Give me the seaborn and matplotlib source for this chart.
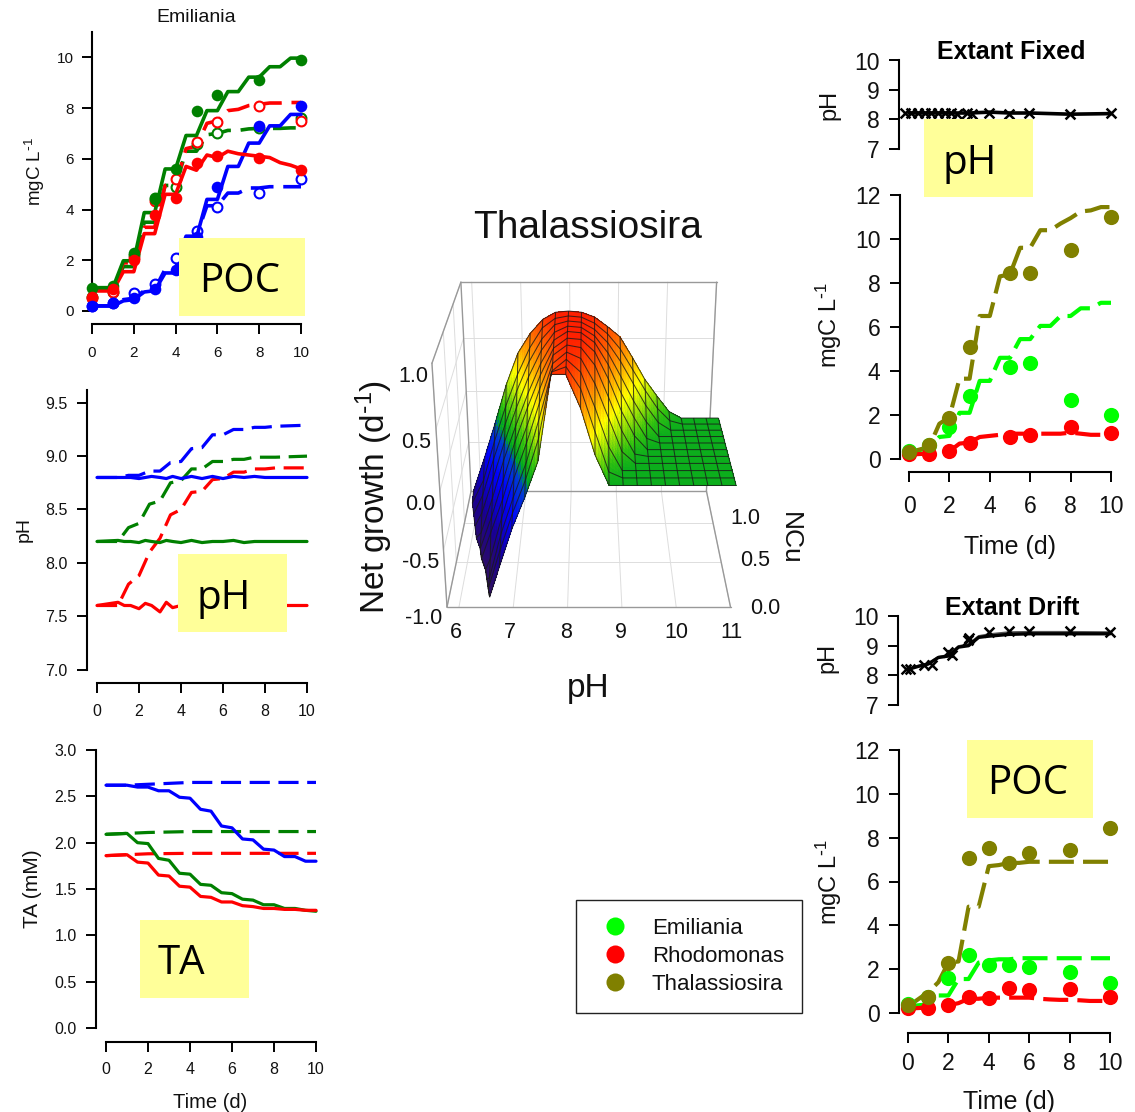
import numpy as np
import matplotlib
matplotlib.use("Agg")
import matplotlib.pyplot as plt
import seaborn as sns
from matplotlib.colors import LinearSegmentedColormap, Normalize
from matplotlib.lines import Line2D
from matplotlib.patches import Rectangle

sns.set_theme(style="ticks")
plt.rcParams["font.family"] = ["Liberation Sans", "DejaVu Sans"]
plt.rcParams["mathtext.default"] = "regular"
plt.rcParams["axes.unicode_minus"] = False

W, H = 1135, 1112

BLUE = "#0000FF"
GREEN = "#008000"
RED = "#FF0000"
LIME = "#00FF00"
OLIVE = "#808000"
BOX_YELLOW = "#FFFF99"

# ---- time bases ----
T_MODEL = [0, 1, 1.5, 2, 2.5, 3, 3.5, 4, 4.5, 5, 5.5, 6, 6.5, 7, 7.5, 8, 8.5, 9, 9.5, 10]
T_OBS = [0, 1, 2, 3, 4, 5, 6, 8, 10]
T_OBS_FIXED = [0, 1, 2, 3, 5, 6, 8, 10]

# ---- Emiliania POC ----
POC_GREEN_SOLID = [.92, .92, 1.98, 1.98, 3.88, 3.88, 5.6, 5.6, 6.92, 6.92, 7.9, 7.9, 8.65, 8.65, 9.22, 9.22, 9.63, 9.63, 9.97, 9.97]
POC_GREEN_DASH = [.9, .9, 1.75, 1.75, 3.5, 3.5, 4.95, 4.95, 6.3, 6.3, 6.95, 7.0, 7.12, 7.12, 7.18, 7.2, 7.2, 7.2, 7.22, 7.22]
POC_RED_SOLID = [.8, .8, 1.55, 1.55, 3.05, 3.05, 4.6, 4.6, 5.7, 5.55, 6.15, 6.05, 6.3, 6.2, 6.15, 6.1, 6.05, 5.85, 5.75, 5.6]
POC_RED_DASH = [.8, .8, 1.9, 1.9, 3.3, 3.3, 4.95, 5.0, 6.4, 6.5, 7.4, 7.5, 7.9, 7.95, 8.1, 8.15, 8.2, 8.2, 8.22, 8.22]
POC_BLUE_SOLID = [.2, .2, .4, .45, .75, .8, 1.5, 1.5, 2.4, 2.9, 4.4, 4.4, 5.7, 5.7, 6.62, 6.62, 7.3, 7.3, 7.75, 7.75]
POC_BLUE_DASH = [.2, .2, .45, .5, .8, .85, 1.65, 1.7, 2.95, 2.95, 4.15, 4.15, 4.65, 4.65, 4.85, 4.85, 4.9, 4.9, 4.9, 4.9]
OBS_GREEN_FILL = [.9, 1.0, 2.3, 4.4, 5.6, 7.9, 8.5, 9.1, 9.9]
OBS_RED_FILL = [.55, .85, 2.0, 3.8, 4.45, 5.85, 6.1, 6.05, 5.55]
OBS_BLUE_FILL = [.2, .3, .5, .85, 1.6, 2.9, 4.9, 7.3, 8.1]
OBS_GREEN_OPEN = [.55, .75, 2.2, 4.45, 4.9, 6.6, 7.0, 7.2, 7.6]
OBS_RED_OPEN = [.5, .75, 2.1, 4.35, 5.2, 6.65, 7.45, 8.1, 7.5]
OBS_BLUE_OPEN = [.2, .3, .7, 1.05, 2.1, 3.15, 4.1, 4.65, 5.2]

# ---- Emiliania pH ----
T_PH = [0, 1, 1.3, 1.6, 2, 2.3, 2.6, 3, 3.3, 3.6, 4, 4.5, 5, 5.5, 6, 6.5, 7, 7.5, 8, 8.5, 9, 9.5, 10]
PH_BLUE_SOLID = [8.8, 8.8, 8.8, 8.8, 8.79, 8.8, 8.81, 8.8, 8.79, 8.81, 8.79, 8.81, 8.79, 8.81, 8.79, 8.81, 8.8, 8.81, 8.8, 8.8, 8.8, 8.8, 8.8]
PH_GREEN_SOLID = [8.2, 8.21, 8.2, 8.2, 8.19, 8.21, 8.2, 8.19, 8.21, 8.2, 8.19, 8.21, 8.19, 8.2, 8.2, 8.21, 8.19, 8.2, 8.2, 8.2, 8.2, 8.2, 8.2]
PH_RED_SOLID = [7.6, 7.63, 7.6, 7.6, 7.57, 7.62, 7.6, 7.54, 7.63, 7.58, 7.6, 7.6, 7.6, 7.6, 7.6, 7.6, 7.6, 7.6, 7.6, 7.6, 7.6, 7.6, 7.6]
T_PH_DASH = [0, 1, 1.5, 2, 2.5, 3, 3.5, 4, 4.5, 5, 5.5, 6, 6.5, 7, 7.5, 8, 8.5, 10]
PH_BLUE_DASH = [8.8, 8.8, 8.82, 8.82, 8.86, 8.86, 8.94, 8.95, 9.07, 9.08, 9.2, 9.2, 9.25, 9.25, 9.27, 9.27, 9.28, 9.29]
PH_GREEN_DASH = [8.2, 8.2, 8.33, 8.37, 8.55, 8.58, 8.75, 8.77, 8.88, 8.88, 8.95, 8.95, 8.97, 8.97, 8.99, 8.99, 8.99, 9.0]
PH_RED_DASH = [7.6, 7.6, 7.8, 7.88, 8.1, 8.23, 8.45, 8.5, 8.66, 8.67, 8.78, 8.79, 8.85, 8.85, 8.88, 8.88, 8.89, 8.89]

# ---- Emiliania TA ----
TA_BLUE_SOLID = [2.62, 2.62, 2.6, 2.6, 2.56, 2.56, 2.49, 2.48, 2.36, 2.34, 2.18, 2.16, 2.04, 2.03, 1.93, 1.92, 1.85, 1.85, 1.8, 1.8]
TA_GREEN_SOLID = [2.09, 2.1, 2.0, 1.99, 1.83, 1.81, 1.67, 1.66, 1.55, 1.54, 1.46, 1.45, 1.39, 1.38, 1.33, 1.33, 1.29, 1.29, 1.27, 1.26]
TA_RED_SOLID = [1.86, 1.87, 1.79, 1.78, 1.65, 1.64, 1.53, 1.52, 1.42, 1.41, 1.36, 1.36, 1.32, 1.31, 1.29, 1.29, 1.28, 1.28, 1.27, 1.27]
T_TA_DASH = [0, 1, 2, 4, 10]
TA_BLUE_DASH = [2.62, 2.62, 2.63, 2.65, 2.65]
TA_GREEN_DASH = [2.09, 2.1, 2.11, 2.12, 2.12]
TA_RED_DASH = [1.86, 1.87, 1.88, 1.885, 1.885]

# ---- Extant Fixed ----
T_FIXED_LINE = [0, 1, 2, 3, 4, 5, 6, 8, 10]
FIXED_PH_LINE = [8.22, 8.22, 8.22, 8.22, 8.25, 8.22, 8.22, 8.18, 8.2]
T_FIXED_X = [-.2, .1, .45, .8, 1.1, 1.45, 1.8, 2.1, 2.4, 2.85, 3.1, 3.95, 4.95, 5.95, 7.95, 10]
FIXED_PH_X = [8.23, 8.22, 8.22, 8.22, 8.23, 8.22, 8.22, 8.22, 8.2, 8.22, 8.2, 8.23, 8.2, 8.23, 8.2, 8.22]
FIXED_OLIVE_DASH = [.3, .55, 1.6, 1.9, 3.65, 3.65, 6.5, 6.5, 8.3, 8.4, 9.6, 9.6, 10.4, 10.4, 10.7, 10.95, 11.25, 11.3, 11.45, 11.45]
FIXED_LIME_DASH = [.3, .5, 1.0, 1.05, 2.1, 2.1, 3.55, 3.55, 4.6, 4.6, 5.45, 5.45, 6.05, 6.05, 6.5, 6.5, 6.85, 6.85, 7.1, 7.1]
FIXED_RED_DASH = [.2, .25, .3, .35, .7, .75, 1.0, 1.05, 1.1, 1.15, 1.15, 1.15, 1.15, 1.15, 1.15, 1.2, 1.15, 1.1, 1.1, 1.1]
FIXED_LIME_OBS = [.35, .65, 1.45, 2.85, 4.2, 4.35, 2.7, 2.0]
FIXED_RED_OBS = [.25, .25, .35, .75, 1.0, 1.1, 1.45, 1.2]
FIXED_OLIVE_OBS = [.3, .65, 1.85, 5.1, 8.45, 8.45, 9.5, 11.0]

# ---- Extant Drift ----
T_DRIFT_LINE = [0, .5, 1, 1.5, 2, 2.5, 3, 3.5, 4, 5, 6, 8, 10]
DRIFT_PH_LINE = [8.2, 8.3, 8.38, 8.6, 8.65, 8.95, 9.0, 9.28, 9.32, 9.38, 9.4, 9.4, 9.4]
DRIFT_PH_LINE2 = [8.2, 8.32, 8.4, 8.62, 8.68, 8.98, 9.05, 9.32, 9.38, 9.45, 9.46, 9.46, 9.45]
T_DRIFT_X = [-.1, .1, .8, 1.2, 2.0, 2.2, 2.95, 3.0, 4, 5, 6, 8, 10]
DRIFT_PH_X = [8.2, 8.2, 8.35, 8.35, 8.8, 8.7, 9.2, 9.25, 9.45, 9.5, 9.5, 9.5, 9.45]
DRIFT_OLIVE_DASH = [.3, .95, 1.4, 2.3, 2.35, 4.85, 4.85, 6.7, 6.75, 6.85, 6.85, 6.9, 6.9, 6.9, 6.9, 6.9, 6.9, 6.9, 6.9, 6.9]
DRIFT_LIME_DASH = [.3, .4, .8, .8, 1.55, 1.55, 2.3, 2.4, 2.45, 2.45, 2.5, 2.5, 2.5, 2.5, 2.5, 2.5, 2.5, 2.5, 2.5, 2.5]
DRIFT_RED_DASH = [.2, .25, .3, .35, .45, .65, .65, .7, .7, .7, .7, .7, .65, .62, .6, .6, .58, .55, .55, .55]
DRIFT_LIME_OBS = [.4, .75, 1.6, 2.65, 2.2, 2.2, 2.1, 1.85, 1.35]
DRIFT_RED_OBS = [.25, .25, .35, .75, .7, 1.15, 1.05, 1.1, .75]
DRIFT_OLIVE_OBS = [.35, .75, 2.3, 7.05, 7.55, 6.85, 7.3, 7.45, 8.45]

# ---- Thalassiosira growth surface ----
SURF_PH = [6, 6.25, 6.5, 6.75, 7, 7.25, 7.5, 7.75, 8, 8.25, 8.5, 8.75, 9, 9.25, 9.5, 9.75, 10, 10.25, 10.5, 10.75, 11]
SURF_NCU = [.07, .163, .256, .349, .442, .535, .628, .721, .814, .907, 1]
SURF_LEFT_EDGE = [6.55, 6.5, 6.45, 6.4, 6.3, 6.25, 6.15, 6.1, 6.05, 6.0, 6.0]
SURF_GROWTH = [
    [-.97, -.97, -.97, -.7, -.37, -.1, .2, .88, .88, .62, .25, 0, 0, 0, 0, 0, 0, 0, 0, 0, 0],
    [-.97, -.97, -.97, -.62, -.3, -.02, .32, .85, .89, .72, .38, .05, 0, 0, 0, 0, 0, 0, 0, 0, 0],
    [-.96, -.96, -.95, -.55, -.23, .06, .42, .81, .9, .8, .52, .2, 0, 0, 0, 0, 0, 0, 0, 0, 0],
    [-.95, -.95, -.85, -.47, -.13, .17, .5, .82, .91, .86, .66, .38, .1, 0, 0, 0, 0, 0, 0, 0, 0],
    [-.92, -.92, -.68, -.38, -.03, .26, .57, .84, .92, .9, .76, .5, .22, .02, 0, 0, 0, 0, 0, 0, 0],
    [-.9, -.9, -.6, -.27, .07, .36, .63, .85, .93, .92, .82, .6, .33, .12, 0, 0, 0, 0, 0, 0, 0],
    [-.87, -.82, -.5, -.15, .15, .43, .68, .87, .94, .93, .85, .67, .43, .22, .04, 0, 0, 0, 0, 0, 0],
    [-.83, -.7, -.38, -.05, .25, .52, .74, .89, .94, .93, .86, .72, .52, .31, .13, 0, 0, 0, 0, 0, 0],
    [-.78, -.6, -.26, .05, .35, .6, .79, .91, .94, .93, .87, .76, .6, .41, .22, .07, 0, 0, 0, 0, 0],
    [-.74, -.52, -.16, .16, .44, .67, .84, .92, .94, .93, .88, .79, .66, .48, .3, .14, .03, 0, 0, 0, 0],
    [-.69, -.38, -.05, .3, .58, .75, .87, .93, .94, .93, .89, .81, .72, .54, .35, .2, .06, 0, 0, 0, 0],
]
PH_TICKS = [6, 7, 8, 9, 10, 11]
NCU_TICKS = [0, .5, 1]
Z_TICKS = [-1, -.5, 0, .5, 1]

RAINBOW = LinearSegmentedColormap.from_list("growth", [
    (0.00, "#30105F"), (0.15, "#1A0090"), (0.33, "#0000FF"), (0.46, "#0040D0"),
    (0.50, "#00A820"), (0.57, "#30C010"), (0.72, "#FFFF00"), (0.86, "#FF8800"), (1.00, "#FF2000"),
])


def add_panel(fig, x0, x10, y_low, y_high, ylim, yticks, ylabels, left_off, bottom_off, tick_size, xpad=9, ypad=6):
    # x0, x10: pixel of t=0, t=10; y_low, y_high: pixel of ylim ends
    ax = fig.add_axes([x0 / W, 1 - y_low / H, (x10 - x0) / W, (y_low - y_high) / H])
    ax.set_xlim(0, 10)
    ax.set_ylim(*ylim)
    ax.patch.set_alpha(0)
    sns.despine(ax=ax, offset={"left": left_off * .72, "bottom": (bottom_off or 0) * .72})
    ax.set_yticks(yticks, ylabels)
    ax.spines["left"].set_linewidth(1.5)
    ax.spines["left"].set_color("black")
    ax.tick_params(axis="y", length=7, width=1.4, labelsize=tick_size, pad=ypad, color="black", labelcolor="#111111")
    if bottom_off is None:
        ax.xaxis.set_visible(False)
        ax.spines["bottom"].set_visible(False)
    else:
        ax.set_xticks([0, 2, 4, 6, 8, 10])
        ax.spines["bottom"].set_linewidth(1.5)
        ax.spines["bottom"].set_color("black")
        ax.spines["bottom"].set_bounds(0, 10)
        ax.tick_params(axis="x", length=7, width=1.4, labelsize=tick_size, pad=xpad, color="black", labelcolor="#111111")
    ax.set_xlabel("")
    ax.set_ylabel("")
    return ax


def draw_line(ax, x, y, color, dashed=False, lw=2.6, z=2, dash=(6.3, 2.7)):
    ls = (0, dash) if dashed else "-"
    sns.lineplot(x=x, y=y, ax=ax, color=color, linewidth=lw, linestyle=ls, estimator=None, sort=False,
                 errorbar=None, clip_on=False, zorder=z, solid_joinstyle="round", dash_capstyle="butt")


def draw_dots(ax, x, y, color, size, is_open=False, z=3):
    if is_open:
        sns.scatterplot(x=x, y=y, ax=ax, color="white", edgecolor=color, linewidth=1.5, s=size,
                        clip_on=False, zorder=z, legend=False)
    else:
        sns.scatterplot(x=x, y=y, ax=ax, color=color, edgecolor=color, linewidth=0, s=size,
                        clip_on=False, zorder=z, legend=False)


def draw_surface(fig):
    ax = fig.add_axes([332 / W, 1 - 693 / H, 500 / W, 500 / H], projection="3d", computed_zorder=False)
    ax.patch.set_alpha(0)
    ax.set_proj_type("persp", focal_length=0.416)
    ax.view_init(elev=24.5, azim=-90)
    ax.set_box_aspect((1.0, .892, .918), zoom=.848)
    ax.set_xlim(5.78, 11)
    ax.set_ylim(0, 1.45)
    ax.set_zlim(-1, 1)
    ax.set_axis_off()

    xb0, xb1, yb0, yb1, zb0, zb1 = 5.78, 11, 0, 1.45, -1, 1
    # light grid on the walls and floor
    for p in PH_TICKS:
        ax.plot([p, p], [yb1, yb1], [zb0, zb1], color="#DDDDDD", lw=.7, zorder=1)
        ax.plot([p, p], [yb0, yb1], [zb0, zb0], color="#DDDDDD", lw=.7, zorder=1)
    for n in NCU_TICKS:
        ax.plot([xb0, xb1], [n, n], [zb0, zb0], color="#DDDDDD", lw=.7, zorder=1)
        ax.plot([xb0, xb0], [n, n], [zb0, zb1], color="#DDDDDD", lw=.7, zorder=1)
    for v in Z_TICKS:
        ax.plot([xb0, xb1], [yb1, yb1], [v, v], color="#DDDDDD", lw=.7, zorder=1)
        ax.plot([xb0, xb0], [yb0, yb1], [v, v], color="#DDDDDD", lw=.7, zorder=1)
    # frame
    frame = [
        ([xb0, xb1], [yb0, yb0], [zb0, zb0]), ([xb0, xb1], [yb1, yb1], [zb0, zb0]),
        ([xb0, xb1], [yb1, yb1], [zb1, zb1]), ([xb0, xb0], [yb0, yb1], [zb1, zb1]),
        ([xb0, xb0], [yb0, yb0], [zb0, zb1]), ([xb0, xb0], [yb1, yb1], [zb0, zb1]),
        ([xb1, xb1], [yb1, yb1], [zb0, zb1]), ([xb0, xb0], [yb0, yb1], [zb0, zb0]),
        ([xb1, xb1], [yb0, yb1], [zb0, zb0]),
    ]
    for fx, fy, fz in frame:
        ax.plot(fx, fy, fz, color="#999999", lw=1.0, zorder=1)

    ph_grid, ncu_grid = np.meshgrid(SURF_PH, SURF_NCU)
    ph_grid = np.maximum(ph_grid, np.array(SURF_LEFT_EDGE)[:, None])
    growth = np.array(SURF_GROWTH)

    # finer shading cells so the colour runs smoothly inside each mesh cell
    k = 5
    ri = np.linspace(0, growth.shape[0] - 1, (growth.shape[0] - 1) * k + 1)
    ci = np.linspace(0, growth.shape[1] - 1, (growth.shape[1] - 1) * k + 1)

    def upsample(a):
        rows = np.array([np.interp(ci, np.arange(a.shape[1]), row) for row in a])
        return np.array([np.interp(ri, np.arange(a.shape[0]), col) for col in rows.T]).T

    fine_x, fine_y, fine_z = upsample(ph_grid), upsample(ncu_grid), upsample(growth)
    norm = Normalize(-1, .93)
    ax.plot_surface(fine_x, fine_y, fine_z, rstride=1, cstride=1, facecolors=RAINBOW(norm(fine_z)),
                    shade=False, linewidth=0, antialiased=False, zorder=2)
    ax.plot_wireframe(ph_grid, ncu_grid, growth, rstride=1, cstride=1, color="#1A1A1A", linewidth=.75, alpha=.8, zorder=3)


fig = plt.figure(figsize=(W / 100, H / 100), dpi=100, facecolor="white")

# ---- left column ----
ax = add_panel(fig, 92, 301, 311, 32, (0, 11), [0, 2, 4, 6, 8, 10], ["0", "2", "4", "6", "8", "10"], 0, 13, 11)
for yy, c in [(POC_GREEN_DASH, GREEN), (POC_RED_DASH, RED), (POC_BLUE_DASH, BLUE)]:
    draw_line(ax, T_MODEL, yy, c, dashed=True)
for yy, c in [(OBS_GREEN_OPEN, GREEN), (OBS_RED_OPEN, RED), (OBS_BLUE_OPEN, BLUE)]:
    draw_dots(ax, T_OBS, yy, c, 50, is_open=True)
for yy, c in [(POC_BLUE_SOLID, BLUE), (POC_RED_SOLID, RED), (POC_GREEN_SOLID, GREEN)]:
    draw_line(ax, T_MODEL, yy, c, z=4)
for yy, c in [(OBS_GREEN_FILL, GREEN), (OBS_RED_FILL, RED), (OBS_BLUE_FILL, BLUE)]:
    draw_dots(ax, T_OBS, yy, c, 70, z=5)

ax = add_panel(fig, 97, 307, 669.5, 390, (7, 9.62), [7, 7.5, 8, 8.5, 9, 9.5], ["7.0", "7.5", "8.0", "8.5", "9.0", "9.5"], 10, 13.5, 11.5, xpad=8, ypad=7)
for yy, c in [(PH_BLUE_DASH, BLUE), (PH_GREEN_DASH, GREEN), (PH_RED_DASH, RED)]:
    draw_line(ax, T_PH_DASH, yy, c, dashed=True, lw=2.3)
for yy, c in [(PH_BLUE_SOLID, BLUE), (PH_GREEN_SOLID, GREEN), (PH_RED_SOLID, RED)]:
    draw_line(ax, T_PH, yy, c, lw=2.3)

ax = add_panel(fig, 106, 316, 1028, 750, (0, 3), [0, .5, 1, 1.5, 2, 2.5, 3], ["0.0", "0.5", "1.0", "1.5", "2.0", "2.5", "3.0"], 10, 13.5, 11.5, xpad=8, ypad=7)
for yy, c in [(TA_BLUE_DASH, BLUE), (TA_GREEN_DASH, GREEN), (TA_RED_DASH, RED)]:
    draw_line(ax, T_TA_DASH, yy, c, dashed=True, lw=2.3)
for yy, c in [(TA_BLUE_SOLID, BLUE), (TA_GREEN_SOLID, GREEN), (TA_RED_SOLID, RED)]:
    draw_line(ax, T_MODEL, yy, c, lw=2.3)

# ---- right column ----
ax = add_panel(fig, 909, 1111, 149, 60.5, (7, 10), [7, 8, 9, 10], ["7", "8", "9", "10"], 10, None, 16.5, ypad=7)
draw_line(ax, T_FIXED_LINE, FIXED_PH_LINE, "black", lw=2.6)
sns.scatterplot(x=T_FIXED_X, y=FIXED_PH_X, ax=ax, marker="x", color="black", s=50, linewidth=1.8, clip_on=False, zorder=3, legend=False)

ax = add_panel(fig, 909, 1111, 459, 195, (0, 12), [0, 2, 4, 6, 8, 10, 12], ["0", "2", "4", "6", "8", "10", "12"], 9, 13, 16.5, xpad=9.5, ypad=7)
for yy, c in [(FIXED_LIME_DASH, LIME), (FIXED_RED_DASH, RED), (FIXED_OLIVE_DASH, OLIVE)]:
    draw_line(ax, T_MODEL, yy, c, dashed=True, lw=3, dash=(6, 2.2))
for yy, c in [(FIXED_LIME_OBS, LIME), (FIXED_RED_OBS, RED), (FIXED_OLIVE_OBS, OLIVE)]:
    draw_dots(ax, T_OBS_FIXED, yy, c, 120)

ax = add_panel(fig, 908, 1110, 705, 616, (7, 10), [7, 8, 9, 10], ["7", "8", "9", "10"], 10, None, 16.5, ypad=7)
draw_line(ax, T_DRIFT_LINE, DRIFT_PH_LINE2, "#555555", lw=1.6)
draw_line(ax, T_DRIFT_LINE, DRIFT_PH_LINE, "black", lw=2.4)
sns.scatterplot(x=T_DRIFT_X, y=DRIFT_PH_X, ax=ax, marker="x", color="black", s=50, linewidth=1.8, clip_on=False, zorder=3, legend=False)

ax = add_panel(fig, 908, 1110, 1013, 750, (0, 12), [0, 2, 4, 6, 8, 10, 12], ["0", "2", "4", "6", "8", "10", "12"], 9, 20, 16.5, xpad=7, ypad=7)
for yy, c in [(DRIFT_LIME_DASH, LIME), (DRIFT_RED_DASH, RED), (DRIFT_OLIVE_DASH, OLIVE)]:
    draw_line(ax, T_MODEL, yy, c, dashed=True, lw=3, dash=(6, 2.2))
for yy, c in [(DRIFT_LIME_OBS, LIME), (DRIFT_RED_OBS, RED), (DRIFT_OLIVE_OBS, OLIVE)]:
    draw_dots(ax, T_OBS, yy, c, 120)

draw_surface(fig)

# ---- overlay in pixel coordinates: labels, yellow boxes, legend ----
over = fig.add_axes([0, 0, 1, 1], zorder=20)
over.set_xlim(0, W)
over.set_ylim(H, 0)
over.set_axis_off()
over.patch.set_alpha(0)


def label(x, y, s, size, rotation=0, weight="normal", color="#111111"):
    over.text(x, y, s, fontsize=size, rotation=rotation, fontweight=weight, color=color,
              ha="center", va="center", rotation_mode="anchor")


MGC = "mgC L$^{\\text{-}1}$"
label(196, 17, "Emiliania", 14)
label(35, 172, MGC, 13.5, rotation=90)
label(24, 530, "pH", 14, rotation=90)
label(33, 889, "TA (mM)", 15, rotation=90)
label(210, 1103, "Time (d)", 14.5)

label(1011, 52, "Extant Fixed", 18, weight="bold", color="black")
label(1012, 608, "Extant Drift", 18, weight="bold", color="black")
label(829, 105, "pH", 17, rotation=90)
label(829, 325, MGC, 17, rotation=90)
label(1010, 547, "Time (d)", 18)
label(827, 658, "pH", 17, rotation=90)
label(829, 882, MGC, 17, rotation=90)
label(1009, 1102, "Time (d)", 18)

label(588, 228, "Thalassiosira", 28)
label(374, 497, "Net growth (d$^{\\text{-}1}$)", 24, rotation=90)
label(588, 689, "pH", 24)
label(790, 538, "NCu", 19, rotation=270)
for x, y, s in [(413, 376, "1.0"), (416, 442, "0.5"), (420, 505, "0.0"), (421, 563, "-0.5"), (424, 619, "-1.0")]:
    label(x, y, s, 15.5)
for x, s in [(456, "6"), (510, "7"), (566, "8"), (621, "9"), (676, "10"), (731, "11")]:
    label(x, 633, s, 15.5)
for x, y, s in [(745, 519, "1.0"), (755, 560, "0.5"), (765, 608, "0.0")]:
    label(x, y, s, 15.5)

for x0, y0, x1, y1, tx, ty, s in [
    (179, 238, 305, 316, 240, 282, "POC"),
    (178, 554, 287, 632, 224, 599, "pH"),
    (140, 920, 249, 998, 181, 964, "TA"),
    (924, 119, 1033, 197, 970, 164, "pH"),
    (967, 740, 1093, 818, 1028, 784, "POC"),
]:
    over.add_patch(Rectangle((x0, y0), x1 - x0, y1 - y0, facecolor=BOX_YELLOW, edgecolor="none", zorder=5))
    over.text(tx, ty, s, fontsize=29, family="Open Sans", color="black", ha="center", va="center", zorder=6)

handles = [Line2D([], [], linestyle="", marker="o", markersize=13, color=c, markeredgewidth=0) for c in (LIME, RED, OLIVE)]
leg = over.legend(handles, ["Emiliania", "Rhodomonas", "Thalassiosira"], loc="upper left",
                  bbox_to_anchor=(576, 900), bbox_transform=over.transData, borderaxespad=0,
                  fontsize=16, frameon=True, fancybox=False, framealpha=1, edgecolor="#222222",
                  labelspacing=.3, handletextpad=.75, borderpad=.82, handlelength=1.85)
leg.get_frame().set_linewidth(1.0)
for t in leg.get_texts():
    t.set_color("#111111")

fig.savefig("out.png", dpi=100)
